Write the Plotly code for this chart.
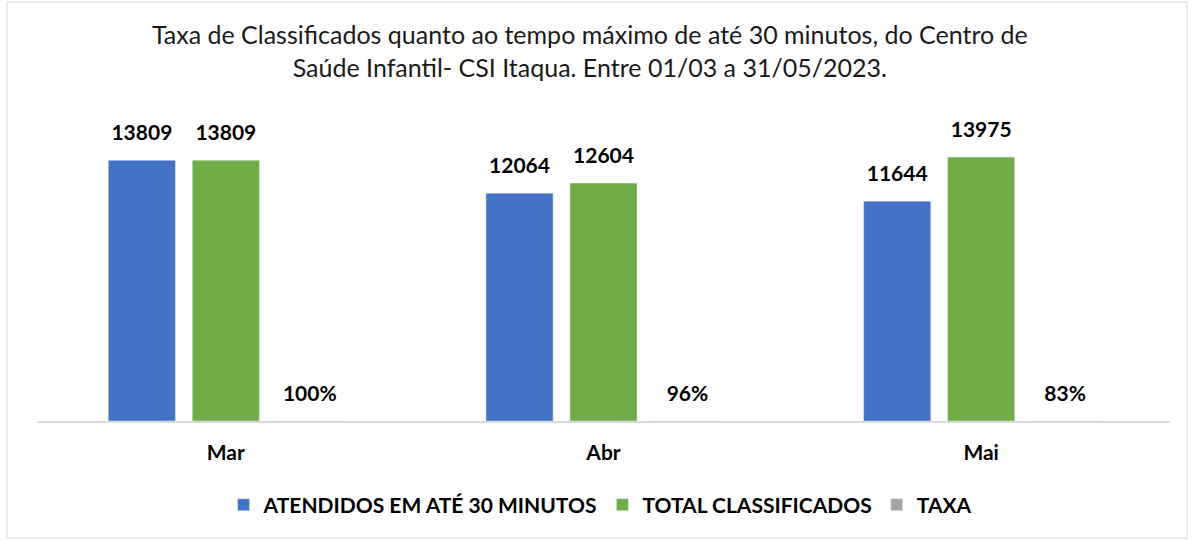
import plotly.graph_objects as go

meses = ["Mar", "Abr", "Mai"]
atendidos = [13809, 12064, 11644]
total_classificados = [13809, 12604, 13975]
taxa = [1.00, 0.96, 0.83]

fonte = "Lato"
rotulo = dict(size=21, color="black", family=fonte, weight="bold")

series = [
    ("ATENDIDOS EM ATÉ 30 MINUTOS", atendidos, "#4472c4", "%{y:d}"),
    ("TOTAL CLASSIFICADOS", total_classificados, "#70ad47", "%{y:d}"),
    ("TAXA", taxa, "#a5a5a5", "%{y:.0%}"),
]

fig = go.Figure()

for i, (nome, valores, cor, formato) in enumerate(series):
    fig.add_trace(go.Bar(
        x=meses, y=valores, name=nome, marker_color=cor,
        offsetgroup=str(i), hoverinfo="skip",
    ))
    # rótulos como texto, alinhados à barra do mesmo grupo
    # (marcador invisível só para afastar o texto do topo da barra)
    fig.add_trace(go.Scatter(
        x=meses, y=valores, mode="markers+text", texttemplate=formato,
        textposition="top center", textfont=rotulo,
        offsetgroup=str(i), showlegend=False, cliponaxis=False,
        marker=dict(size=22, opacity=0), hoverinfo="skip",
    ))

fig.update_layout(
    width=1194, height=540,
    barmode="group", bargap=0.333, bargroupgap=0.2,
    scattermode="group", scattergap=0.333,
    plot_bgcolor="white", paper_bgcolor="white",
    margin=dict(l=37, r=24, t=100, b=119, autoexpand=False),
    font=dict(family=fonte, color="black"),
    title=dict(
        text="Taxa de Classificados quanto ao tempo máximo de até 30 minutos, do Centro de<br>Saúde Infantil- CSI Itaqua. Entre 01/03 a 31/05/2023.",
        x=0.494, xanchor="center", y=0.918, yanchor="top",
        font=dict(size=25, family=fonte, color="#1a1a1a"),
    ),
    legend=dict(
        orientation="h", x=0.497, xanchor="center", y=-0.262, yanchor="middle",
        font=dict(size=21, family=fonte, color="black", weight="bold"),
        traceorder="normal",
    ),
)

fig.update_xaxes(
    showline=True, linecolor="#d9d9d9", linewidth=2,
    ticks="", tickfont=dict(size=21, family=fonte, weight="bold"),
    ticklabelstandoff=12, automargin=False,
)
fig.update_yaxes(
    range=[0, 17000], visible=False, showgrid=False, zeroline=False,
)

fig.add_shape(
    type="rect", xref="paper", yref="paper",
    x0=-30 / 1133, x1=1150 / 1133, y0=-117 / 321, y1=98 / 321 + 1,
    line=dict(color="#d9d9d9", width=1), layer="below",
)

fig.write_html(
    "out.html",
    config={"displayModeBar": False},
    post_script="document.body.style.margin='0';",
)
